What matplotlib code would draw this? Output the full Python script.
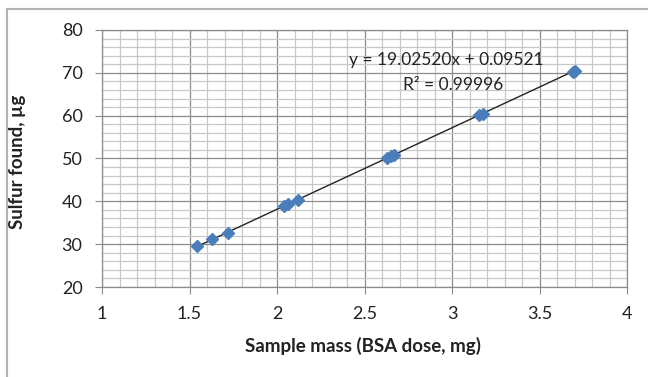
import numpy as np
import matplotlib
matplotlib.use("Agg")
import matplotlib.pyplot as plt
from matplotlib.lines import Line2D
from matplotlib.ticker import MultipleLocator

# sample mass (mg) and sulfur found (ug)
mass = [1.545, 1.63, 1.72, 2.04, 2.06, 2.12, 2.63, 2.65, 2.67, 3.155, 3.175, 3.69, 3.70]
sulfur = [29.6, 31.1, 32.7, 38.9, 39.3, 40.4, 50.1, 50.5, 50.9, 60.1, 60.5, 70.3, 70.5]

slope = 19.02520
intercept = 0.09521
r2 = 0.99996

x_ticks = [1, 1.5, 2, 2.5, 3, 3.5, 4]
x_tick_labels = ["1", "1.5", "2", "2.5", "3", "3.5", "4"]
y_ticks = [20, 30, 40, 50, 60, 70, 80]

plt.rcParams['font.family'] = ['Lato', 'DejaVu Sans']

fig = plt.figure(figsize=(6.48, 3.77), dpi=100)
ax = fig.add_axes([102 / 648, 1 - 287 / 377, 525 / 648, 257 / 377])

ax.set_xlim(1, 4)
ax.set_ylim(20, 80)
ax.set_xticks(x_ticks)
ax.set_xticklabels(x_tick_labels)
ax.set_yticks(y_ticks)
ax.xaxis.set_minor_locator(MultipleLocator(0.1))
ax.yaxis.set_minor_locator(MultipleLocator(2))

ax.grid(which='minor', color='#c8c8c8', linewidth=0.9)
ax.grid(which='major', color='#8c8c8c', linewidth=0.9)
ax.set_axisbelow(True)

for s in ax.spines.values():
    s.set_color('#8c8c8c')
    s.set_linewidth(0.9)

ax.tick_params(which='major', direction='out', length=5, color='#8c8c8c',
               labelsize=13, labelcolor='#222222')
ax.tick_params(which='minor', length=0)
ax.tick_params(axis='y', pad=9)
ax.tick_params(axis='x', pad=9)

# trendline over the data range
xl = np.array([min(mass), max(mass)])
ax.plot(xl, slope * xl + intercept, color='#222222', linewidth=1.0, zorder=3)

ax.plot(mass, sulfur, linestyle='none', marker='D', markersize=6.2,
        color='#4a7ebb', markeredgecolor='#4a7ebb', zorder=4)

ax.text(2.966, 72.9, "y = %.5fx + %.5f" % (slope, intercept), fontsize=12.5,
        ha='center', va='center', color='#222222', zorder=5)
ax.text(3.006, 67.2, "R² = %.5f" % r2, fontsize=12.5,
        ha='center', va='center', color='#222222', zorder=5)

ax.set_xlabel("Sample mass (BSA dose, mg)", fontsize=13.5, fontweight='bold',
              color='#222222')
ax.set_ylabel("Sulfur found, µg", fontsize=13.5, fontweight='bold',
              color='#222222')
ax.xaxis.set_label_coords(0.498, (287 - 346) / 257)
ax.xaxis.label.set_va('center')
ax.yaxis.set_label_coords((18 - 102) / 525, (287 - 162) / 257)
ax.yaxis.label.set_va('center')

# outer chart frame (top and left visible)
fig.add_artist(Line2D([6.5 / 648, 1], [1 - 8.5 / 377, 1 - 8.5 / 377],
                      transform=fig.transFigure, color='#b4b4b4', linewidth=1.5))
fig.add_artist(Line2D([6.5 / 648, 6.5 / 648], [0, 1 - 8.5 / 377],
                      transform=fig.transFigure, color='#b4b4b4', linewidth=1.5))

fig.savefig("out.png", dpi=100)
